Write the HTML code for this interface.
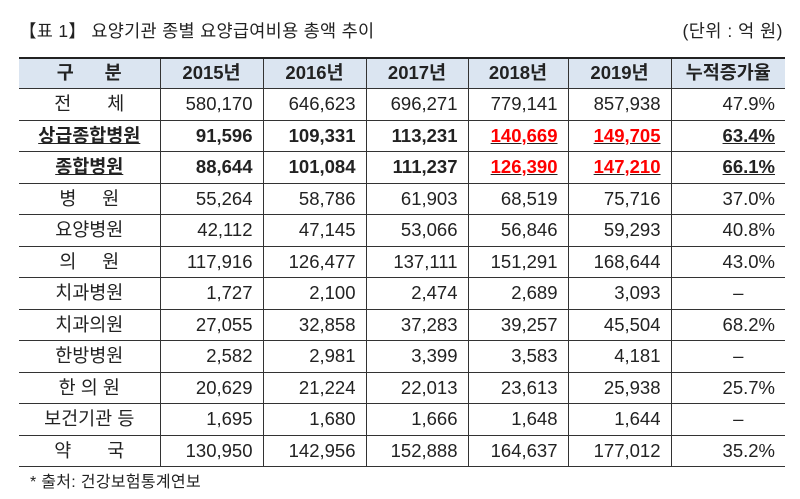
<!DOCTYPE html>
<html><head><meta charset="utf-8"><style>
body{margin:0;width:800px;height:499px;background:#fff;font-family:"Liberation Sans","Noto Sans CJK KR",sans-serif;color:#222;position:relative;overflow:hidden}
.t{position:absolute;left:19px;top:18px;font-size:17.5px;letter-spacing:0.3px}
.u{position:absolute;right:17px;top:18px;font-size:17.5px;letter-spacing:0.5px}
table{position:absolute;left:19px;top:57px;border-collapse:collapse;table-layout:fixed;width:766px}
td,th{height:30.5px;padding:0 10px 0 0;font-size:18.5px;text-align:right;border:1px solid #333;border-top:1px solid #444;white-space:nowrap;line-height:1}
tr td:first-child,tr th:first-child{border-left:none;text-align:center;padding:0}
tr td:last-child,tr th:last-child{border-right:none}
th{background:#dbe5f1;font-weight:bold;text-align:center;padding:0;border-top:2px solid #222;height:29px}
.b{font-weight:bold}
.r{color:#f00;text-decoration:underline;text-decoration-color:#222}
.ul{text-decoration:underline}
.c{text-align:center;padding:0 0 0 20px}
.f{position:absolute;left:30px;top:468px;font-size:16px;letter-spacing:0.3px}
</style></head><body>
<div class="t">【표 1】 요양기관 종별 요양급여비용 총액 추이</div>
<div class="u">(단위 : 억 원)</div>
<table>
<colgroup><col style="width:141px"><col style="width:103px"><col style="width:103px"><col style="width:102px"><col style="width:100px"><col style="width:103px"><col style="width:114px"></colgroup>
<tr><th>구&nbsp;&nbsp;&nbsp;&nbsp;&nbsp;&nbsp;분</th><th>2015년</th><th>2016년</th><th>2017년</th><th>2018년</th><th>2019년</th><th>누적증가율</th></tr>
<tr><td>전&nbsp;&nbsp;&nbsp;&nbsp;&nbsp;&nbsp;&nbsp;체</td><td>580,170</td><td>646,623</td><td>696,271</td><td>779,141</td><td>857,938</td><td>47.9%</td></tr>
<tr class="b"><td class="ul">상급종합병원</td><td>91,596</td><td>109,331</td><td>113,231</td><td><span class="r">140,669</span></td><td><span class="r">149,705</span></td><td><span class="ul">63.4%</span></td></tr>
<tr class="b"><td class="ul">종합병원</td><td>88,644</td><td>101,084</td><td>111,237</td><td><span class="r">126,390</span></td><td><span class="r">147,210</span></td><td><span class="ul">66.1%</span></td></tr>
<tr><td>병&nbsp;&nbsp;&nbsp;&nbsp;&nbsp;원</td><td>55,264</td><td>58,786</td><td>61,903</td><td>68,519</td><td>75,716</td><td>37.0%</td></tr>
<tr><td>요양병원</td><td>42,112</td><td>47,145</td><td>53,066</td><td>56,846</td><td>59,293</td><td>40.8%</td></tr>
<tr><td>의&nbsp;&nbsp;&nbsp;&nbsp;&nbsp;원</td><td>117,916</td><td>126,477</td><td>137,111</td><td>151,291</td><td>168,644</td><td>43.0%</td></tr>
<tr><td>치과병원</td><td>1,727</td><td>2,100</td><td>2,474</td><td>2,689</td><td>3,093</td><td class="c">–</td></tr>
<tr><td>치과의원</td><td>27,055</td><td>32,858</td><td>37,283</td><td>39,257</td><td>45,504</td><td>68.2%</td></tr>
<tr><td>한방병원</td><td>2,582</td><td>2,981</td><td>3,399</td><td>3,583</td><td>4,181</td><td class="c">–</td></tr>
<tr><td>한 의 원</td><td>20,629</td><td>21,224</td><td>22,013</td><td>23,613</td><td>25,938</td><td>25.7%</td></tr>
<tr><td>보건기관 등</td><td>1,695</td><td>1,680</td><td>1,666</td><td>1,648</td><td>1,644</td><td class="c">–</td></tr>
<tr><td>약&nbsp;&nbsp;&nbsp;&nbsp;&nbsp;&nbsp;&nbsp;국</td><td>130,950</td><td>142,956</td><td>152,888</td><td>164,637</td><td>177,012</td><td>35.2%</td></tr>
</table>
<div class="f">* 출처: 건강보험통계연보</div>
</body></html>
